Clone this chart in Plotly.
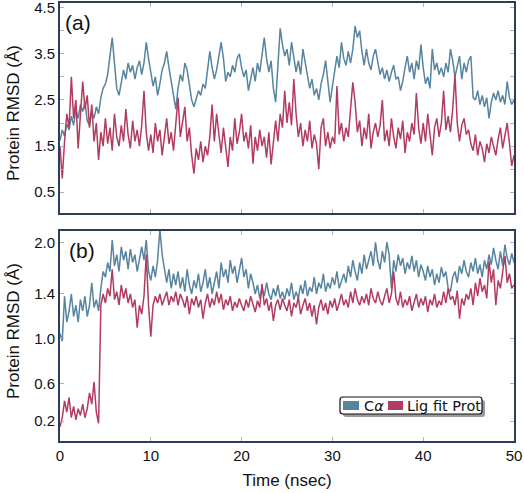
import plotly.graph_objects as go

# time axis (nsec), sampled every 0.25 ns
time_ns = [i * 0.25 for i in range(201)]

# (a) Protein RMSD (Å)
ca_a = [1.62, 1.85, 1.72, 1.98, 1.85, 2.15, 1.95, 2.30, 2.10, 2.40, 2.25, 2.45, 2.05, 1.95, 2.25, 2.10, 2.35, 2.20, 2.55, 2.75,
        2.85, 3.05, 3.45, 3.85, 3.3, 2.75, 2.6, 2.85, 3.15, 2.95, 3.3, 3.1, 3.25, 2.95, 3.2, 3.35, 3.05, 3.3, 3.75, 3.4,
        3.05, 2.8, 3.0, 2.6, 2.85, 3.15, 3.3, 3.55, 3.2, 2.9, 2.55, 2.3, 2.75, 3.05, 2.9, 3.3, 3.15, 2.8, 2.5, 2.35,
        2.55, 2.7, 2.6, 2.85, 2.75, 3.2, 3.55, 3.2, 2.95, 3.15, 3.45, 3.75, 3.4, 2.9, 3.1, 3.0, 3.25, 3.1, 3.4, 3.5,
        3.2, 3.0, 3.15, 2.7, 2.95, 3.2, 2.9, 3.3, 3.1, 3.45, 3.85, 3.4, 3.1, 3.35, 2.75, 2.45, 3.3, 4.05, 3.7, 3.45,
        3.6, 3.25, 3.75, 3.45, 3.1, 3.35, 3.05, 3.6, 3.3, 3.0, 2.75, 2.95, 2.6, 2.75, 2.5, 2.85, 3.05, 3.35, 2.9, 2.45,
        2.8, 3.15, 3.45, 3.2, 3.75, 3.4, 3.25, 3.55, 3.3, 3.6, 4.1, 3.85, 4.0, 3.55, 3.25, 3.6, 3.3, 3.15, 3.45, 3.6,
        3.3, 3.05, 3.2, 2.95, 3.15, 2.9, 3.1, 3.25, 2.95, 3.0, 2.7, 2.9, 3.2, 3.45, 3.1, 3.3, 2.95, 3.35, 3.15, 3.7,
        3.2, 2.85, 3.0, 2.75, 3.6, 3.15, 3.3, 3.05, 3.2, 3.0, 3.3, 3.1, 3.6, 3.35, 3.0, 3.25, 3.45, 2.95, 3.3, 3.1,
        3.35, 3.45, 2.55, 2.5, 2.7, 2.4, 2.6, 2.35, 2.55, 2.1, 2.45, 2.65, 2.5, 2.7, 2.45, 2.6, 2.4, 2.9, 2.55, 2.4, 2.5]

lig_a = [1.5, 0.8, 1.6, 2.2, 1.9, 3.0, 2.1, 2.5, 1.45, 2.2, 2.9, 2.3, 2.6, 1.9, 2.4, 1.6, 2.0, 1.2, 1.8, 1.5,
         2.1, 1.55, 1.9, 1.4, 2.2, 1.7, 1.5, 1.95, 1.6, 2.3, 1.75, 1.45, 2.05, 1.6, 1.85, 1.5, 1.95, 2.7, 1.8, 1.4,
         1.75, 1.35, 2.0, 1.6, 1.85, 1.3, 1.7, 2.1, 1.55, 1.8, 1.4, 1.95, 2.55, 1.7, 2.0, 2.35, 1.6, 1.9, 1.3, 0.9,
         1.45, 1.2, 1.6, 1.15, 1.5, 1.3, 1.7, 2.4, 1.6, 2.2, 1.75, 1.35, 1.9, 1.5, 1.05, 1.7, 1.4, 2.1, 1.55, 1.8,
         2.2, 1.6, 1.8, 1.45, 1.95, 1.12, 1.7, 1.4, 1.85, 1.5, 1.7, 1.25, 1.8, 1.1, 1.65, 2.05, 1.6, 2.2, 1.9, 2.7,
         2.0, 2.45, 1.95, 2.95, 2.2, 1.7, 2.0, 1.5, 1.85, 1.6, 2.05, 1.45, 1.75, 1.55, 1.0, 1.9, 2.1, 1.5, 1.8, 1.45,
         1.7, 1.55, 2.8, 1.75, 2.0, 1.6, 1.9, 1.7, 2.3, 2.88, 2.45, 1.8, 2.05, 1.5, 1.9, 1.65, 2.2, 1.45, 1.8, 2.0,
         1.7, 1.95, 2.5, 1.6, 1.85, 1.5, 2.1, 1.7, 1.45, 1.9, 1.65, 2.05, 1.35, 1.8, 1.6, 2.0, 1.75, 2.65, 1.9, 1.55,
         2.0, 1.6, 2.2, 1.75, 1.3, 1.9, 2.1, 1.7, 2.0, 2.7, 1.85, 2.15, 1.8, 2.3, 3.05, 2.0, 1.6, 1.95, 2.1, 1.75,
         1.85, 1.55, 1.4, 1.75, 1.3, 1.6, 1.45, 1.15, 1.55, 1.35, 1.7, 1.5, 1.3, 1.65, 1.9, 1.45, 1.7, 2.0, 1.55, 1.07, 1.3]

# (b) Protein RMSD (Å)
ca_b = [1.05, 0.98, 1.38, 1.15, 1.25, 1.4, 1.2, 1.3, 1.15, 1.35, 1.25, 1.38, 1.2, 1.3, 1.5, 1.28, 1.35, 1.25, 1.45, 1.6,
        1.55, 1.68, 1.6, 1.88, 1.65, 1.75, 1.6, 1.82, 1.7, 1.78, 1.62, 1.8, 1.68, 1.75, 1.6, 1.72, 1.82, 1.7, 1.88, 1.6,
        1.52, 1.65, 1.55, 1.7, 1.98, 1.75, 1.6, 1.5, 1.62, 1.45, 1.58, 1.48, 1.6, 1.45, 1.55, 1.42, 1.62, 1.48, 1.4, 1.52,
        1.45, 1.58, 1.42, 1.5, 1.62, 1.45, 1.55, 1.4, 1.5, 1.6, 1.45, 1.68, 1.55, 1.62, 1.5, 1.7, 1.58, 1.65, 1.5, 1.6,
        1.72, 1.55, 1.62, 1.45, 1.58, 1.5, 1.4, 1.48, 1.36, 1.45, 1.38, 1.5, 1.4, 1.35, 1.45, 1.38, 1.48, 1.36, 1.42, 1.35,
        1.45, 1.38, 1.5, 1.35, 1.42, 1.36, 1.48, 1.4, 1.52, 1.38, 1.46, 1.42, 1.55, 1.4, 1.5, 1.45, 1.58, 1.42, 1.5, 1.45,
        1.55, 1.48, 1.6, 1.45, 1.52, 1.58, 1.5, 1.65, 1.55, 1.7, 1.6, 1.52, 1.68, 1.58, 1.75, 1.62, 1.7, 1.78, 1.65, 1.86,
        1.7, 1.62, 1.78, 1.68, 1.86, 1.75, 1.45, 1.7, 1.6, 1.75, 1.65, 1.72, 1.58, 1.68, 1.62, 1.74, 1.6, 1.7, 1.55, 1.66,
        1.6, 1.52, 1.65, 1.55, 1.62, 1.48, 1.58, 1.5, 1.64, 1.55, 1.6, 1.45, 1.42, 1.55, 1.6, 1.5, 1.65, 1.58, 1.7, 1.6,
        1.55, 1.68, 1.6, 1.72, 1.58, 1.66, 1.55, 1.7, 1.62, 1.75, 1.66, 1.81, 1.7, 1.62, 1.78, 1.65, 1.84, 1.72, 1.66, 1.76, 1.68]

lig_b = [0.22, 0.3, 0.45, 0.35, 0.48, 0.3, 0.4, 0.28, 0.38, 0.32, 0.42, 0.3, 0.38, 0.52, 0.42, 0.62, 0.35, 0.25, 1.3, 1.4,
         1.32, 1.45, 1.38, 1.62, 1.35, 1.42, 1.3, 1.48, 1.36, 1.45, 1.32, 1.4, 1.28, 1.35, 1.1, 1.3, 1.22, 1.38, 1.75, 1.3,
         1.02, 1.3, 1.38, 1.32, 1.4, 1.3, 1.36, 1.42, 1.3, 1.38, 1.33, 1.42, 1.3, 1.4, 1.35, 1.28, 1.38, 1.22, 1.36, 1.3,
         1.38, 1.28, 1.35, 1.18, 1.32, 1.4, 1.28, 1.36, 1.3, 1.42, 1.32, 1.4, 1.26, 1.35, 1.3, 1.38, 1.25, 1.33, 1.28, 1.36,
         1.3, 1.25, 1.35, 1.28, 1.38, 1.3, 1.24, 1.34, 1.28, 1.49, 1.3, 1.36, 1.25, 1.33, 1.16, 1.3, 1.35, 1.26, 1.36, 1.3,
         1.25, 1.35, 1.2, 1.32, 1.28, 1.37, 1.22, 1.3, 1.36, 1.25, 1.32, 1.2, 1.3, 1.13, 1.28, 1.35, 1.25, 1.32, 1.22, 1.34,
         1.28, 1.36, 1.25, 1.32, 1.4, 1.3, 1.35, 1.28, 1.42, 1.32, 1.45, 1.35, 1.3, 1.38, 1.32, 1.4, 1.3, 1.45, 1.36, 1.32,
         1.42, 1.34, 1.3, 1.38, 1.45, 1.32, 1.4, 1.6, 1.36, 1.3, 1.42, 1.28, 1.35, 1.3, 1.38, 1.25, 1.33, 1.4, 1.28, 1.36,
         1.3, 1.38, 1.24, 1.35, 1.3, 1.4, 1.28, 1.34, 1.3, 1.42, 1.32, 1.45, 1.35, 1.38, 1.3, 1.43, 1.18, 1.36, 1.3, 1.4,
         1.35, 1.45, 1.3, 1.5, 1.38, 1.54, 1.42, 1.48, 1.36, 1.69, 1.5, 1.62, 1.3, 1.52, 1.45, 1.6, 1.74, 1.5, 1.58, 1.45, 1.48]

# axis tick labels
x_ticks = [0, 10, 20, 30, 40, 50]
ya_tickvals = [0.5, 1.0, 1.5, 2.0, 2.5, 3.0, 3.5, 4.0, 4.5]
ya_ticktext = ["0.5", "", "1.5", "", "2.5", "", "3.5", "", "4.5"]
yb_tickvals = [0.27, 0.6, 1.0, 1.4, 1.86]
yb_ticktext = ["0.2", "0.6", "1.0", "1.4", "2.0"]

series_names = ["C\u03b1", "Lig fit Prot"]
colors = ["#5784a0", "#b23c60"]

FONT = "Liberation Sans, Arial, sans-serif"
FRAME = "#2c3c5a"
LW = 1.5

fig = go.Figure()
fig.add_trace(go.Scatter(x=time_ns, y=ca_a, mode="lines", name=series_names[0],
                         line=dict(color=colors[0], width=LW), xaxis="x", yaxis="y", showlegend=False))
fig.add_trace(go.Scatter(x=time_ns, y=lig_a, mode="lines", name=series_names[1],
                         line=dict(color=colors[1], width=LW), xaxis="x", yaxis="y", showlegend=False))
fig.add_trace(go.Scatter(x=time_ns, y=ca_b, mode="lines", name=series_names[0],
                         line=dict(color=colors[0], width=LW), xaxis="x2", yaxis="y2", showlegend=False))
fig.add_trace(go.Scatter(x=time_ns, y=lig_b, mode="lines", name=series_names[1],
                         line=dict(color=colors[1], width=LW), xaxis="x2", yaxis="y2", showlegend=False))

L, R, T, B = 60, 10, 3, 52
W, H = 524, 493
PW, PH = W - L - R, H - T - B


def px2x(px):
    return (px - L) / PW


def py2y(py):
    return (H - B - py) / PH


axis_common = dict(showline=True, linecolor=FRAME, linewidth=2, mirror="allticks",
                   ticks="inside", ticklen=4, tickcolor="#b0b0b0", showgrid=False, zeroline=False,
                   automargin=False, ticklabeloverflow="allow",
                   tickfont=dict(family=FONT, size=15, color="#111"))

ytitle_font = dict(family=FONT, size=17, color="#111")

fig.update_layout(
    width=W, height=H,
    margin=dict(l=L, r=R, t=T, b=B),
    paper_bgcolor="white", plot_bgcolor="white",
    showlegend=False,
    xaxis=dict(domain=[0, 1], anchor="y", range=[0, 50], tickvals=x_ticks, showticklabels=False, **axis_common),
    yaxis=dict(domain=[py2y(213), 1], anchor="x", range=[0.05, 4.6], tickvals=ya_tickvals, ticktext=ya_ticktext,
               **axis_common),
    xaxis2=dict(domain=[0, 1], anchor="y2", range=[0, 50], tickvals=x_ticks,
                title=dict(text="Time (nsec)", font=dict(family=FONT, size=17, color="#111"), standoff=11),
                **axis_common),
    yaxis2=dict(domain=[0, py2y(231)], anchor="x2", range=[0.093, 1.96], tickvals=yb_tickvals, ticktext=yb_ticktext,
                **axis_common),
)

# y axis titles placed as rotated texts left of each panel
fig.add_annotation(text="Protein RMSD (\u00c5)", xref="paper", yref="paper", x=px2x(13), y=py2y(113),
                   xanchor="center", yanchor="middle", textangle=-90, showarrow=False, font=ytitle_font)
fig.add_annotation(text="Protein RMSD (\u00c5)", xref="paper", yref="paper", x=px2x(13), y=py2y(331),
                   xanchor="center", yanchor="middle", textangle=-90, showarrow=False, font=ytitle_font)

# panel labels
fig.add_annotation(text="(a)", xref="paper", yref="paper", x=px2x(78), y=py2y(22),
                   xanchor="center", yanchor="middle", showarrow=False, font=dict(family=FONT, size=21, color="#111"))
fig.add_annotation(text="(b)", xref="paper", yref="paper", x=px2x(82), y=py2y(250),
                   xanchor="center", yanchor="middle", showarrow=False, font=dict(family=FONT, size=21, color="#111"))

# legend box (shadow + rounded frame)
bx0, bx1, by0, by1 = 340, 482, 397, 414


def rounded(x0, y0, x1, y1, r):
    pts = (f"M {px2x(x0 + r)},{py2y(y0)} L {px2x(x1 - r)},{py2y(y0)} "
           f"Q {px2x(x1)},{py2y(y0)} {px2x(x1)},{py2y(y0 + r)} L {px2x(x1)},{py2y(y1 - r)} "
           f"Q {px2x(x1)},{py2y(y1)} {px2x(x1 - r)},{py2y(y1)} L {px2x(x0 + r)},{py2y(y1)} "
           f"Q {px2x(x0)},{py2y(y1)} {px2x(x0)},{py2y(y1 - r)} L {px2x(x0)},{py2y(y0 + r)} "
           f"Q {px2x(x0)},{py2y(y0)} {px2x(x0 + r)},{py2y(y0)} Z")
    return pts


fig.add_shape(type="path", xref="paper", yref="paper", path=rounded(bx0 + 3, by0 + 3, bx1 + 3, by1 + 3, 3),
              fillcolor="#9a9a9a", line=dict(width=0))
fig.add_shape(type="path", xref="paper", yref="paper", path=rounded(bx0, by0, bx1, by1, 3),
              fillcolor="white", line=dict(color="#111", width=1.2))

# legend swatches and labels
sw = [(343, 359), (388, 403)]
tx = [362, 405]
for (s0, s1), c in zip(sw, colors):
    fig.add_shape(type="rect", xref="paper", yref="paper", x0=px2x(s0), x1=px2x(s1), y0=py2y(410), y1=py2y(401),
                  fillcolor=c, line=dict(width=0))
label_text = ["C<i>\u03b1</i>", "Lig fit Prot"]
for t, lt in zip(tx, label_text):
    fig.add_annotation(text=lt, xref="paper", yref="paper", x=px2x(t), y=py2y(405.5), xanchor="left",
                       yanchor="middle", showarrow=False, font=dict(family="DejaVu Sans", size=14.5, color="#111"))

# remove the default page margin so the figure sits at the window's top-left corner
fig.write_html("out.html", config={"displayModeBar": False},
               post_script="document.body.style.margin='0px';")
